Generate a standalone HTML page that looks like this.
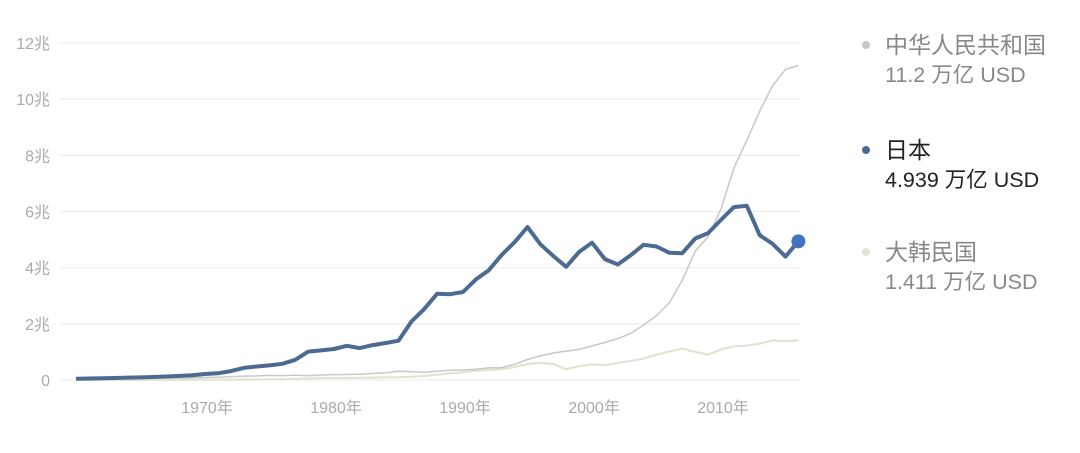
<!DOCTYPE html>
<html><head><meta charset="utf-8"><style>
body{margin:0;background:#fff;width:1080px;height:448px;overflow:hidden;font-family:"Liberation Sans","Noto Sans CJK SC",sans-serif}
</style></head><body>
<svg id="c" width="1080" height="448"></svg>
<script>
const years=[];for(let y=1960;y<=2016;y++)years.push(y);
const japan=[0.044,0.054,0.061,0.072,0.085,0.091,0.106,0.124,0.147,0.172,0.212,0.240,0.318,0.432,0.479,0.521,0.577,0.721,1.013,1.055,1.105,1.218,1.135,1.244,1.318,1.398,2.078,2.532,3.072,3.054,3.133,3.584,3.909,4.454,4.907,5.449,4.833,4.415,4.032,4.562,4.888,4.304,4.115,4.445,4.815,4.755,4.530,4.515,5.038,5.231,5.700,6.157,6.203,5.156,4.850,4.395,4.939];
const china=[0.06,0.05,0.047,0.05,0.059,0.07,0.076,0.072,0.07,0.079,0.09,0.099,0.114,0.138,0.144,0.163,0.154,0.175,0.149,0.178,0.191,0.196,0.205,0.23,0.26,0.31,0.30,0.27,0.31,0.35,0.36,0.38,0.43,0.44,0.56,0.73,0.86,0.96,1.03,1.09,1.21,1.34,1.47,1.66,1.96,2.29,2.75,3.55,4.59,5.10,6.09,7.55,8.53,9.57,10.48,11.06,11.2];
const korea=[0.004,0.002,0.003,0.004,0.003,0.003,0.004,0.005,0.006,0.008,0.009,0.01,0.011,0.014,0.02,0.022,0.03,0.039,0.052,0.066,0.065,0.072,0.078,0.087,0.097,0.1,0.113,0.143,0.192,0.236,0.28,0.33,0.356,0.392,0.463,0.566,0.61,0.57,0.38,0.49,0.56,0.53,0.61,0.68,0.76,0.90,1.01,1.12,1.00,0.90,1.09,1.20,1.22,1.30,1.41,1.38,1.41];
const yTicks=[0,2,4,6,8,10,12];
const yLabels=["0","2兆","4兆","6兆","8兆","10兆","12兆"];
const xTicks=[1970,1980,1990,2000,2010];
const NS="http://www.w3.org/2000/svg";
const svg=document.getElementById('c');
const X=y=>76+(y-1960)*12.9;
const Y=v=>380-v*28.08;
function el(t,a){const e=document.createElementNS(NS,t);for(const k in a)e.setAttribute(k,a[k]);svg.appendChild(e);return e;}
yTicks.forEach((t,i)=>{
 const g=el('line',{x1:60,x2:800,y1:Y(t),y2:Y(t),stroke:'#eeeeee','stroke-width':1.2});
 
 
 const tx=el('text',{x:50,y:Y(t)+6,'text-anchor':'end','font-size':16,fill:'#aaa'});tx.textContent=yLabels[i];
 
 
});
xTicks.forEach(t=>{
 const tx=el('text',{x:X(t)+2,y:413,'text-anchor':'middle','font-size':16,fill:'#aaa'});tx.textContent=t+'年';
 
 
});
function path(arr){return arr.map((v,i)=>(i?'L':'M')+X(years[i]).toFixed(1)+','+Y(v).toFixed(1)).join('');}
const k=el('path',{d:path(korea),fill:'none',stroke:'#e4e2d4','stroke-width':2.2});


const c=el('path',{d:path(china),fill:'none',stroke:'#c8c8c8','stroke-width':1.5});


const j=el('path',{d:path(japan),fill:'none',stroke:'#4d6a92','stroke-width':4,'stroke-linejoin':'round'});


const d=el('circle',{cx:X(2016),cy:Y(japan[japan.length-1]),r:7,fill:'#3f74c0'});


const leg=[["中华人民共和国","11.2 万亿 USD",45,'#c8c8c8','#888'],["日本","4.939 万亿 USD",150,'#4d6a92','#222'],["大韩民国","1.411 万亿 USD",252,'#e4e2d4','#888']];
leg.forEach(l=>{
 const ci=el('circle',{cx:866,cy:l[2],r:4,fill:l[3]});
 
 
 const t1=el('text',{x:885,y:l[2]+8,'font-size':23,fill:l[4]});t1.textContent=l[0];
 
 
 const t2=el('text',{x:885,y:l[2]+37,'font-size':21.5,fill:l[4]});t2.textContent=l[1];
 
 
});
</script>
</body></html>
